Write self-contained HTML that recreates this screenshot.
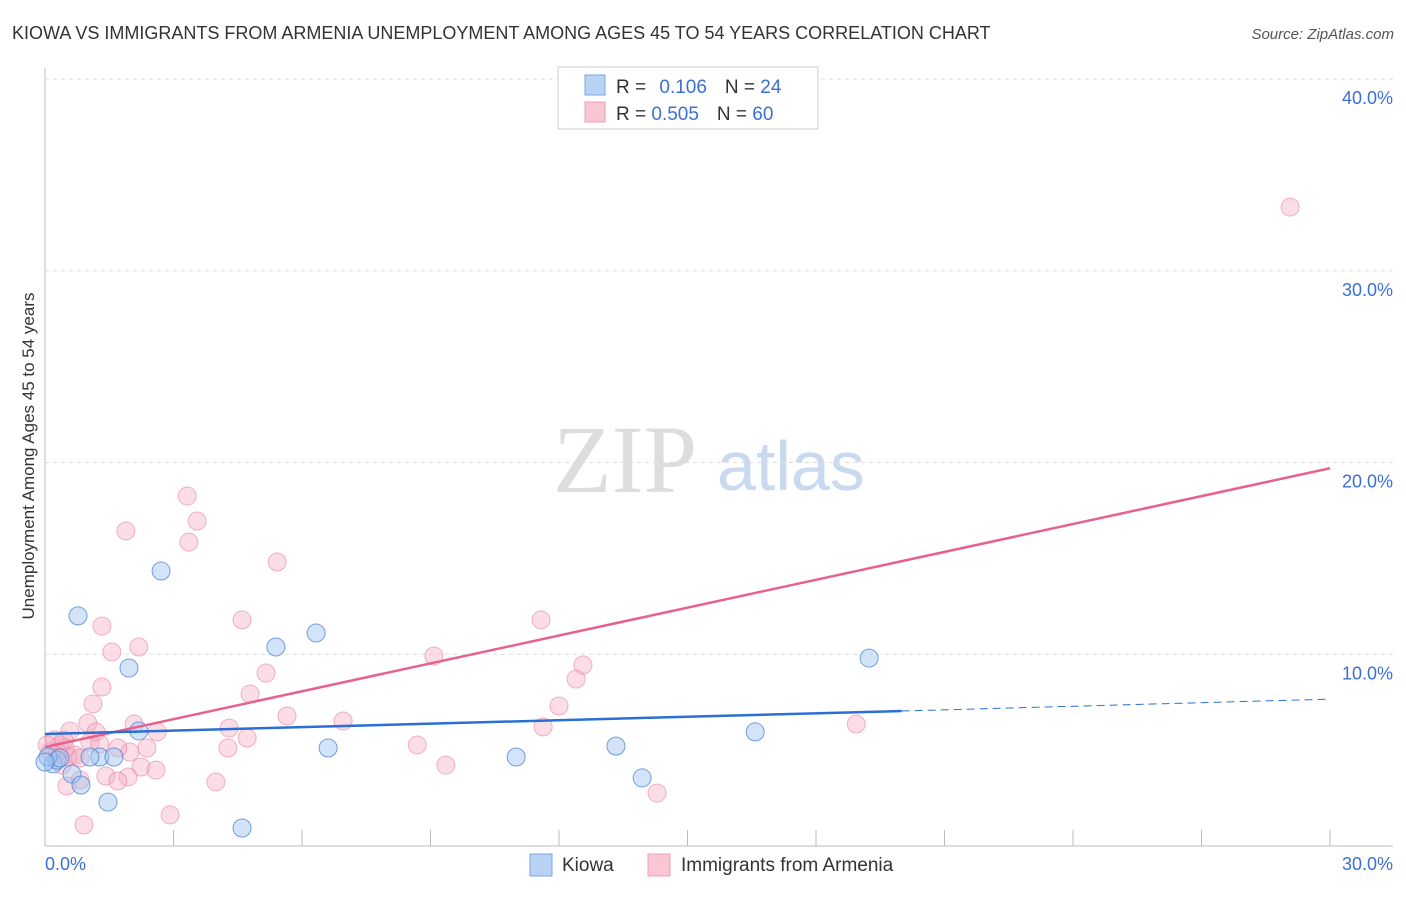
<!DOCTYPE html>
<html><head><meta charset="utf-8"><style>
body{margin:0;background:#fff;font-family:"Liberation Sans",sans-serif}
svg text{font-family:"Liberation Sans",sans-serif}
</style></head><body>
<svg id="chart" width="1406" height="892" xmlns="http://www.w3.org/2000/svg">
<text x="12" y="39" font-size="18" fill="#333">KIOWA VS IMMIGRANTS FROM ARMENIA UNEMPLOYMENT AMONG AGES 45 TO 54 YEARS CORRELATION CHART</text>
<text x="1394" y="39" font-size="15" fill="#555" text-anchor="end" font-style="italic">Source: ZipAtlas.com</text>
<text x="553" y="492" font-size="96" fill="#ddd" font-family="Liberation Serif" style="font-family:'Liberation Serif',serif">ZIP</text>
<text x="717" y="490" font-size="70" fill="#c9d9f0">atlas</text>
<text transform="translate(34,456) rotate(-90)" font-size="17" fill="#333" text-anchor="middle">Unemployment Among Ages 45 to 54 years</text>
<g id="grid"></g><g id="marks"></g>
<g>
<rect x="558" y="67" width="260" height="62" fill="#fff" stroke="#ccc"/>
<rect x="585" y="75" width="20" height="20" fill="#b8d2f4" stroke="#7aa6e2"/>
<rect x="585" y="102" width="20" height="20" fill="#f9c6d4" stroke="#ee9fb7"/>
<text x="616" y="93" font-size="19" fill="#333">R = <tspan fill="#3b6fd4" dx="8">0.106</tspan><tspan dx="18" fill="#333">N = </tspan><tspan fill="#3b6fd4">24</tspan></text>
<text x="616" y="120" font-size="19" fill="#333">R = <tspan fill="#3b6fd4">0.505</tspan><tspan dx="18" fill="#333">N = </tspan><tspan fill="#3b6fd4">60</tspan></text>
</g>
<g>
<rect x="530" y="854" width="22" height="22" fill="#b8d2f4" stroke="#7aa6e2"/>
<text x="562" y="871" font-size="19" fill="#333">Kiowa</text>
<rect x="648" y="854" width="22" height="22" fill="#f9c6d4" stroke="#ee9fb7"/>
<text x="681" y="871" font-size="19" fill="#333">Immigrants from Armenia</text>
</g>
</svg>
<script>
const yTicks=[10,20,30,40];
const yTickLabels=["10.0%","20.0%","30.0%","40.0%"];
const xTickLabels=["0.0%","30.0%"];
const blueX=[0.77,2.71,1.96,5.39,6.33,19.24,6.61,1.28,1.61,2.19,16.58,11.0,13.33,13.94,0.63,0.84,1.47,4.6,0.19,0.28,0.07,0.35,1.05,0];
const blueY=[12.0,14.34,9.28,10.38,11.11,9.8,5.11,4.64,4.64,6.0,5.95,4.64,5.21,3.55,3.75,3.18,2.29,0.94,4.28,4.48,4.64,4.59,4.64,4.38];
const pinkX=[3.32,3.55,3.36,1.89,5.42,11.58,4.6,1.33,2.19,1.56,9.08,5.16,12.56,12.4,1.33,4.79,12.0,1.12,5.65,6.96,18.94,11.63,4.3,2.08,1.0,1.19,2.62,4.72,8.69,2.38,4.27,1.98,1.05,9.36,2.24,2.59,1.94,1.42,1.7,0.82,0.51,3.99,14.29,2.92,0.91,29.07,0.58,0.35,0.12,0.47,0.23,0.7,0.4,0.05,0.3,0.54,1.28,1.7,0.44,0.82];
const pinkY=[18.25,16.95,15.85,16.43,14.81,11.79,11.79,11.47,10.38,10.12,9.91,9.02,9.44,8.71,8.29,7.93,7.3,7.41,6.78,6.52,6.36,6.21,6.15,6.36,6.41,5.95,5.95,5.63,5.27,5.11,5.11,4.9,5.42,4.22,4.12,3.96,3.6,3.65,3.39,3.44,3.13,3.34,2.76,1.62,1.1,33.32,6.0,5.27,4.9,5.11,5.53,4.74,4.22,5.27,4.9,4.64,5.32,5.11,5.53,4.59];
const blueTrend=[5.84,7.04,7.66];
const pinkTrend=[5.16,19.7];
const X0=45,X1=1330,Y0=846,Y40=79;
const xs=v=>X0+v/30*(X1-X0);
const ys=v=>Y0-v/40*(Y0-Y40);
const NS="http://www.w3.org/2000/svg";
const grid=document.getElementById('grid'),marks=document.getElementById('marks');
function mk(tag,attrs,parent){const e=document.createElementNS(NS,tag);for(const k in attrs)e.setAttribute(k,attrs[k]);parent.appendChild(e);return e;}
let ax=mk('line',{x1:X0,y1:68,x2:X0,y2:Y0,stroke:'#bbb'},grid);


let bx=mk('line',{x1:X0,y1:Y0,x2:1393,y2:Y0,stroke:'#bbb'},grid);


yTicks.forEach((t,i)=>{
 const g=mk('line',{x1:X0,y1:ys(t),x2:1393,y2:ys(t),stroke:'#ddd','stroke-dasharray':'4,4'},grid);
 
 
 const l=mk('text',{x:1393,y:ys(t)+25,'font-size':18,fill:'#3b6fd4','text-anchor':'end'},grid);
 l.textContent=yTickLabels[i];
 
 
});
for(let i=1;i<=10;i++){
 const t=mk('line',{x1:xs(i*3),y1:830,x2:xs(i*3),y2:Y0,stroke:'#bbb'},grid);
 
 
}
[[0,'start',45],[30,'end',1393]].forEach((a,i)=>{
 const l=mk('text',{x:a[2],y:870,'font-size':18,fill:'#3b6fd4','text-anchor':a[1]},grid);
 l.textContent=xTickLabels[i];
 
 
});
pinkX.forEach((v,i)=>{
 const c=mk('circle',{cx:xs(v),cy:ys(pinkY[i]),r:9,fill:'rgba(245,170,192,0.4)',stroke:'rgba(232,130,160,0.6)','stroke-width':1},marks);
 
 
});
blueX.forEach((v,i)=>{
 const c=mk('circle',{cx:xs(v),cy:ys(blueY[i]),r:9,fill:'rgba(160,195,240,0.45)',stroke:'rgba(70,130,215,0.75)','stroke-width':1},marks);
 
 
});
let pt=mk('line',{x1:xs(0),y1:ys(pinkTrend[0]),x2:xs(30),y2:ys(pinkTrend[1]),stroke:'#e8608e','stroke-width':2.5},marks);


let bt=mk('line',{x1:xs(0),y1:ys(blueTrend[0]),x2:xs(20),y2:ys(blueTrend[1]),stroke:'#2a6fd6','stroke-width':2.5},marks);


let bd=mk('line',{x1:xs(20),y1:ys(blueTrend[1]),x2:xs(30),y2:ys(blueTrend[2]),stroke:'#2a6fd6','stroke-width':1,'stroke-dasharray':'8,5'},marks);


</script>
</body></html>
